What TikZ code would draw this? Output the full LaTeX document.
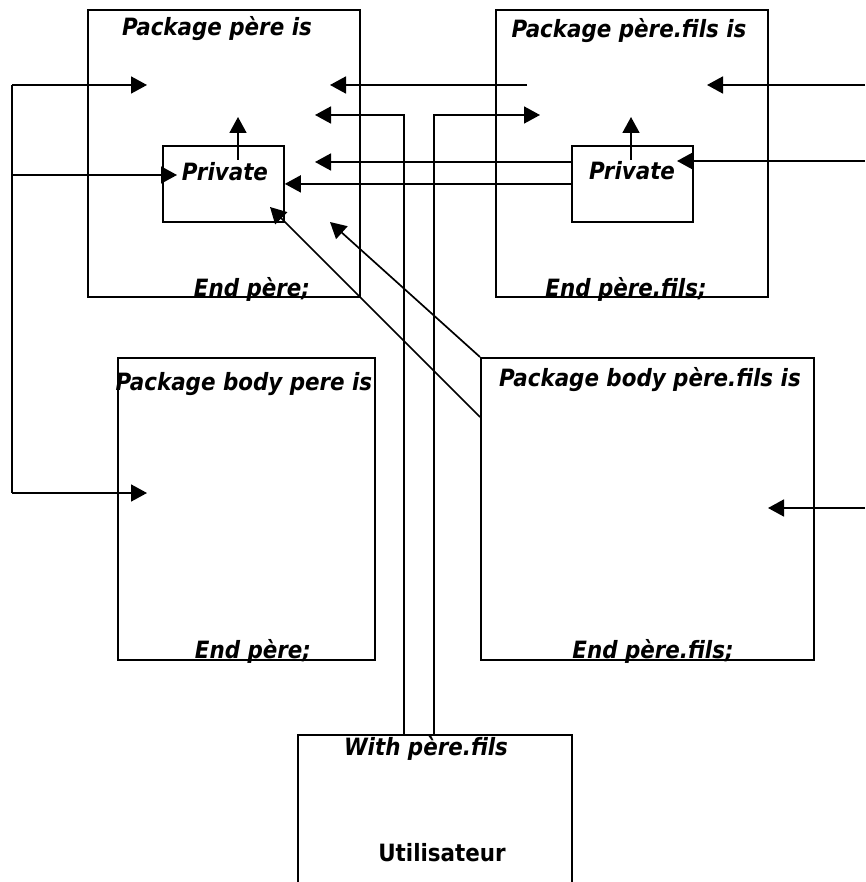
\documentclass[tikz,border=0pt]{standalone}
\usepackage{fontspec}
\newfontfamily\tfont{DejaVu Sans Condensed}[BoldItalicFont={DejaVu Sans Condensed Bold Oblique},BoldFont={DejaVu Sans Condensed Bold}]
\usetikzlibrary{arrows.meta}
\begin{document}
\begin{tikzpicture}[x=1pt,y=-1pt,
  box/.style={draw,line width=1.8pt,inner sep=0pt,anchor=north west},
  lbl/.style={font=\tfont\bfseries\itshape\fontsize{23.8}{26}\selectfont,inner sep=0pt},
  ulbl/.style={font=\tfont\bfseries\fontsize{23.8}{26}\selectfont,inner sep=0pt},
  conn/.style={line width=1.7pt},
  arr/.style={line width=1.7pt,-{Triangle[length=16pt,width=17pt]}}]
\useasboundingbox (0,0) rectangle (865,882);
% boxes
\node[box,minimum width=272pt,minimum height=287pt] (pere) at (87,9) {};
\node[box,minimum width=121pt,minimum height=76pt] (privp) at (162,145) {};
\node[box,minimum width=272pt,minimum height=287pt] (fils) at (495,9) {};
\node[box,minimum width=121pt,minimum height=76pt] (privf) at (571,145) {};
\node[box,minimum width=257pt,minimum height=302pt] (bodyp) at (117,357) {};
\node[box,minimum width=333pt,minimum height=302pt] (bodyf) at (480,357) {};
\coordinate (ubl) at (298,883);
\coordinate (ubr) at (572,883);
\coordinate (utl) at (298,735);
\coordinate (utr) at (572,735);
\draw[line width=1.8pt] (ubl) -- (utl) -- (utr) -- (ubr);
% labels
\node[lbl] (t1) at (217,29) {Package père is};
\node[lbl] (t2) at (629,31) {Package père.fils is};
\node[lbl] (t3) at (225,172) {Private};
\node[lbl] (t4) at (632,171) {Private};
\node[lbl] (t5) at (252,289) {End père;};
\node[lbl] (t6) at (626,289) {End père.fils;};
\node[lbl] (t7) at (244,384) {Package body pere is};
\node[lbl] (t8) at (253,651) {End père;};
\node[lbl] (t9) at (650,380) {Package body père.fils is};
\node[lbl] (t10) at (653,651) {End père.fils;};
\node[lbl] (t11) at (426,748) {With père.fils};
\node[ulbl] (t12) at (442,853) {Utilisateur};
% coordinates
\coordinate (L1) at (12,85);
\coordinate (L2) at (12,175);
\coordinate (L3) at (12,493);
\coordinate (a1) at (147,85);
\coordinate (a2) at (177,175);
\coordinate (a3) at (147,493);
\coordinate (R1) at (865,85);
\coordinate (r1) at (707,85);
\coordinate (R2) at (865,161);
\coordinate (r2) at (677,161);
\coordinate (R3) at (865,508);
\coordinate (r3) at (768,508);
\coordinate (m1s) at (527,85);
\coordinate (m1) at (330,85);
\coordinate (v1b) at (404,735);
\coordinate (v1t) at (404,115);
\coordinate (m2) at (315,115);
\coordinate (v2b) at (434,735);
\coordinate (v2t) at (434,115);
\coordinate (m3) at (540,115);
\coordinate (m4) at (315,162);
\coordinate (upp1) at (238,160);
\coordinate (upp2) at (238,117);
\coordinate (upf1) at (631,160);
\coordinate (upf2) at (631,117);
\coordinate (d1) at (330,222);
\coordinate (d2s) at (480,417);
\coordinate (d2) at (270,207);
% connectors
\draw[conn] (L1) -- (L3);
\draw[arr] (L1) -- (a1);
\draw[arr] (L2) -- (a2);
\draw[arr] (L3) -- (a3);
\draw[arr] (R1) -- (r1);
\draw[arr] (R2) -- (r2);
\draw[arr] (R3) -- (r3);
\draw[arr] (m1s) -- (m1);
\draw[arr] (v1b) -- (v1t) -- (m2);
\draw[arr] (v2b) -- (v2t) -- (m3);
\draw[arr] (privf.west |- m4) -- (m4);
\draw[arr] (privf.west |- privp.east) -- (privp.east);
\draw[arr] (upp1) -- (upp2);
\draw[arr] (upf1) -- (upf2);
\draw[arr] (bodyf.north west) -- (d1);
\draw[arr] (d2s) -- (d2);
\end{tikzpicture}
\end{document}
